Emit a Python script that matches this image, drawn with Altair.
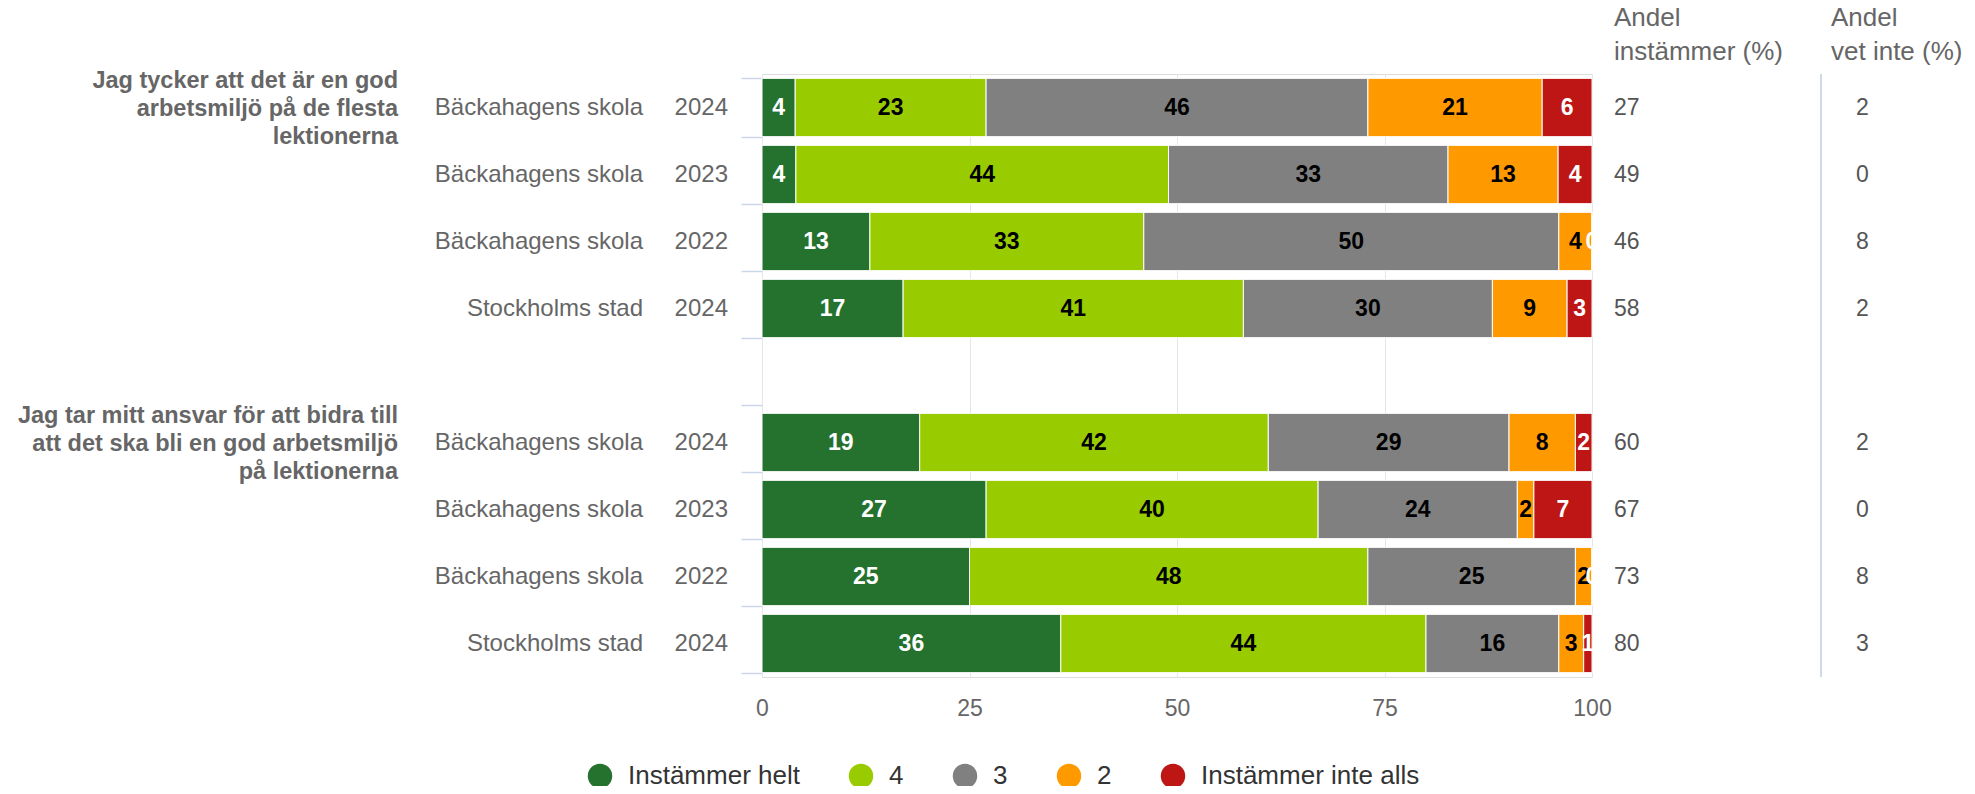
import altair as alt
import pandas as pd

# ---- data ----
categories = ["Instämmer helt", "4", "3", "2", "Instämmer inte alls"]
colors = ["#24722e", "#99cc00", "#808080", "#ff9900", "#be1515"]

questions = [
    "Jag tycker att det är en god\narbetsmiljö på de flesta\nlektionerna",
    "Jag tar mitt ansvar för att bidra till\natt det ska bli en god arbetsmiljö\npå lektionerna",
]
units = ["Bäckahagens skola", "Bäckahagens skola", "Bäckahagens skola", "Stockholms stad"]
years = ["2024", "2023", "2022", "2024"]

q1_values = [[4, 23, 46, 21, 6], [4, 44, 33, 13, 4], [13, 33, 50, 4, 0], [17, 41, 30, 9, 3]]
q2_values = [[19, 42, 29, 8, 2], [27, 40, 24, 2, 7], [25, 48, 25, 2, 0], [36, 44, 16, 3, 1]]
q1_andel = [27, 49, 46, 58]
q1_vetinte = [2, 0, 8, 2]
q2_andel = [60, 67, 73, 80]
q2_vetinte = [2, 0, 8, 3]

# ---- tables ----
row_order = ["q1_0", "q1_1", "q1_2", "q1_3", "gap", "q2_0", "q2_1", "q2_2", "q2_3"]
seg_rows, info_rows, group_rows = [], [], []
for qi, (vals, andel, vet) in enumerate([(q1_values, q1_andel, q1_vetinte),
                                         (q2_values, q2_andel, q2_vetinte)]):
    group_rows.append({"row": f"q{qi+1}_0", "q": questions[qi]})
    for ri, v in enumerate(vals):
        key = f"q{qi+1}_{ri}"
        total = sum(v)
        cum = 0
        for ci, c in enumerate(categories):
            start = cum / total * 100
            cum += v[ci]
            end = cum / total * 100
            seg_rows.append({"row": key, "cat": c, "value": v[ci],
                             "start": start, "end": end, "mid": (start + end) / 2})
        info_rows.append({"row": key, "unit": units[ri], "year": years[ri],
                          "andel": str(andel[ri]), "vet": str(vet[ri])})

seg = pd.DataFrame(seg_rows)
info = pd.DataFrame(info_rows)
groups = pd.DataFrame(group_rows)
headers = pd.DataFrame({"h": ["Andel\ninstämmer (%)", "Andel\nvet inte (%)"], "hx": [852, 1069]})

FONT = "Liberation Sans"
W, H = 830, 603

yenc = alt.Y("row:N", sort=row_order,
             scale=alt.Scale(domain=row_order, paddingInner=0.13, paddingOuter=0.065),
             axis=alt.Axis(labels=False, title=None, domain=False, grid=False,
                           ticks=True, tickBand="extent", tickColor="#ccd6eb",
                           tickSize=21, tickWidth=1.5))

xscale = alt.Scale(domain=[0, 100], nice=False)

bars = alt.Chart(seg).mark_bar(stroke="white", strokeWidth=1).encode(
    x=alt.X("start:Q", scale=xscale,
            axis=alt.Axis(values=[0, 25, 50, 75, 100], title=None, domain=False, ticks=False,
                          grid=True, gridColor="#e6e6e6", labelFontSize=23, labelColor="#666666",
                          labelPadding=20, labelFont=FONT, labelFlush=False)),
    x2="end:Q",
    y=yenc,
    color=alt.Color("cat:N", scale=alt.Scale(domain=categories, range=colors),
                    legend=alt.Legend(title=None, orient="none", direction="horizontal",
                                      legendX=-175, legendY=689, symbolType="circle",
                                      symbolSize=600, symbolStrokeWidth=0,
                                      labelFontSize=26, labelColor="#333333", labelFont=FONT,
                                      labelLimit=0, labelOffset=15, columnPadding=48, padding=0)),
)

labels = alt.Chart(seg).mark_text(fontWeight="bold", fontSize=23, font=FONT).encode(
    x=alt.X("mid:Q", scale=xscale),
    y=alt.Y("row:N", sort=row_order),
    text="value:N",
    color=alt.condition(alt.FieldOneOfPredicate(field="cat", oneOf=["Instämmer helt", "Instämmer inte alls"]),
                        alt.value("white"), alt.value("black")),
)

unit_txt = alt.Chart(info).mark_text(align="right", fontSize=24, font=FONT, color="#666666").encode(
    x=alt.value(-119), y=alt.Y("row:N", sort=row_order), text="unit:N")
year_txt = alt.Chart(info).mark_text(align="right", fontSize=24, font=FONT, color="#666666").encode(
    x=alt.value(-34), y=alt.Y("row:N", sort=row_order), text="year:N")
andel_txt = alt.Chart(info).mark_text(align="left", fontSize=23, font=FONT, color="#555555").encode(
    x=alt.value(852), y=alt.Y("row:N", sort=row_order), text="andel:N")
vet_txt = alt.Chart(info).mark_text(align="left", fontSize=23, font=FONT, color="#555555").encode(
    x=alt.value(1094), y=alt.Y("row:N", sort=row_order), text="vet:N")

group_txt = alt.Chart(groups).mark_text(align="right", baseline="middle", fontSize=23.5, fontWeight="bold",
                                        font=FONT, color="#666666", lineBreak="\n", lineHeight=28,
                                        dy=-27).encode(
    x=alt.value(-364), y=alt.Y("row:N", sort=row_order), text="q:N")

head_txt = alt.Chart(headers).mark_text(align="left", baseline="alphabetic", fontSize=26, font=FONT,
                                        color="#666666", lineBreak="\n", lineHeight=34).encode(
    x=alt.X("hx:Q", scale=None), y=alt.value(-48), text="h:N")

sep = alt.Chart(headers).mark_rule(color="#ccd6eb", strokeWidth=1.5).encode(
    x=alt.value(1059), y=alt.value(0), y2=alt.value(H))

chart = alt.layer(bars, labels, unit_txt, year_txt, andel_txt, vet_txt, group_txt, head_txt, sep).properties(
    width=W, height=H,
    autosize=alt.AutoSizeParams(type="none"),
    padding={"left": 754, "top": 66, "right": 375, "bottom": 109},
).configure_view(stroke=None).configure(font=FONT)

chart.save("out.html", embed_options={"renderer": "svg", "actions": False})
